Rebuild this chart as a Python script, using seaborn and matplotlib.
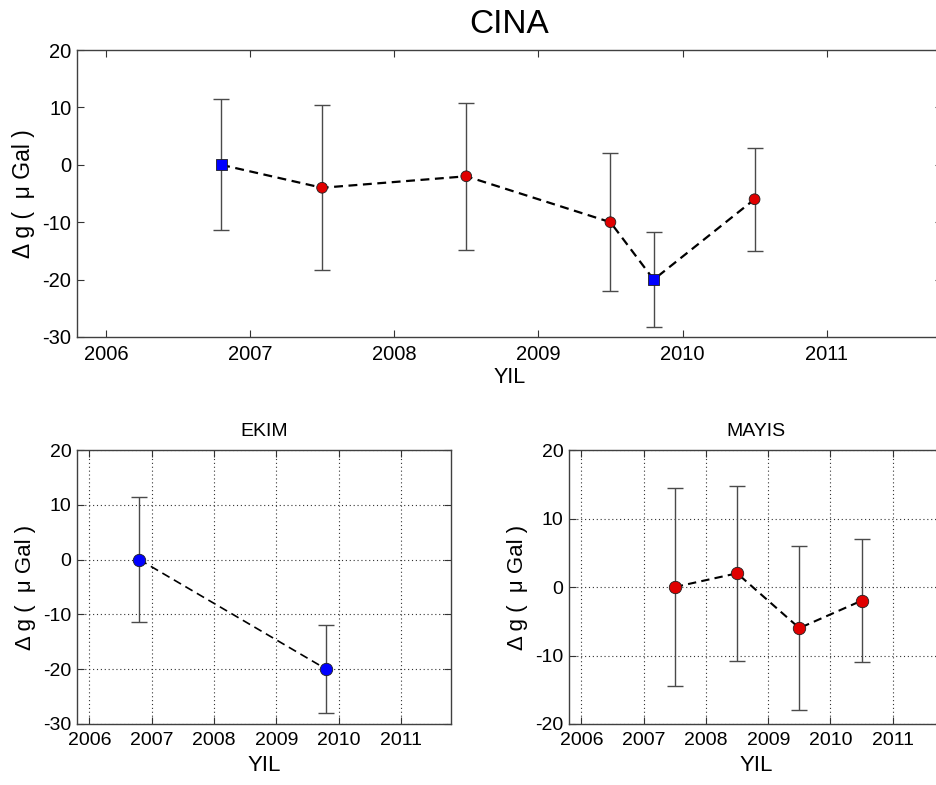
import matplotlib
matplotlib.use("Agg")
import matplotlib.pyplot as plt
import seaborn as sns
import pandas as pd

# Gravity change observations at station CINA
ekim_years = [2006.8, 2009.8]
ekim_dg = [0, -20]
ekim_err = [11.4, 8.0]

mayis_years = [2007.5, 2008.5, 2009.5, 2010.5]
mayis_dg = [0, 2, -6, -2]
mayis_err = [14.5, 12.8, 12.0, 9.0]

# Combined series (May campaigns referenced to the October datum)
all_years = [2006.8, 2007.5, 2008.5, 2009.5, 2009.8, 2010.5]
all_dg = [0, -4, -2, -10, -20, -6]
all_err = [11.4, 14.4, 12.8, 12.0, 8.3, 9.0]
all_campaign = ["EKIM", "MAYIS", "MAYIS", "MAYIS", "EKIM", "MAYIS"]

year_ticks = [2006, 2007, 2008, 2009, 2010, 2011]
ylabel = "\u0394 g (  \u03bc Gal )"

sns.set_theme(style="white")
plt.rcParams["font.family"] = ["Liberation Sans", "DejaVu Sans"]
plt.rcParams["axes.unicode_minus"] = False
plt.rcParams["text.color"] = "black"
plt.rcParams["axes.labelcolor"] = "black"

W, H = 937, 785
fig = plt.figure(figsize=(W / 100, H / 100), dpi=100)


def frame(ax, yticks, tick_size, grid):
    ax.set_xlim(2005.8, 2011.8)
    ax.set_xticks(year_ticks)
    ax.set_yticks(yticks)
    ax.set_ylim(yticks[0], yticks[-1])
    ax.tick_params(direction="in", length=5, width=0.8, colors="#333333",
                   labelcolor="black", labelsize=tick_size,
                   top=True, right=True, bottom=True, left=True, pad=4)
    ax.tick_params(axis="x", pad=6)
    for s in ax.spines.values():
        s.set_visible(True)
        s.set_color("#404040")
        s.set_linewidth(1.0)
    if grid:
        ax.grid(True, linestyle=(0, (1, 2.5)), color="#333333", linewidth=0.8)
    else:
        ax.grid(False)
    ax.set_facecolor("white")


# --- top panel: combined series ---
ax0 = fig.add_axes([77 / W, 1 - 337 / H, (942 - 77) / W, (337 - 50) / H])
df_all = pd.DataFrame({"YIL": all_years, "dg": all_dg, "err": all_err,
                       "kampanya": all_campaign})
ax0.errorbar(df_all["YIL"], df_all["dg"], yerr=df_all["err"], fmt="none",
             ecolor="#4a4a4a", elinewidth=1.0, capsize=6, capthick=1.0, zorder=2)
sns.lineplot(data=df_all, x="YIL", y="dg", ax=ax0, color="black",
             linestyle="--", linewidth=1.6, sort=True, zorder=3)
ax0.lines[-1].set_dashes((4, 2.5))
sns.scatterplot(data=df_all, x="YIL", y="dg", hue="kampanya", style="kampanya",
                palette={"EKIM": "#0000ff", "MAYIS": "#e00000"},
                markers={"EKIM": "s", "MAYIS": "o"},
                s=60, edgecolor="#202020", linewidth=0.6, legend=False,
                ax=ax0, zorder=4)
frame(ax0, [-30, -20, -10, 0, 10, 20], 14.5, grid=False)
ax0.set_title("CINA", fontsize=24, pad=12)
ax0.set_xlabel("YIL", fontsize=15.5, labelpad=2)
ax0.set_ylabel(ylabel, fontsize=16.5, labelpad=5)

# --- bottom left: October campaigns ---
ax1 = fig.add_axes([77 / W, 1 - 724 / H, (451 - 77) / W, (724 - 450) / H])
df_e = pd.DataFrame({"YIL": ekim_years, "dg": ekim_dg, "err": ekim_err})
ax1.errorbar(df_e["YIL"], df_e["dg"], yerr=df_e["err"], fmt="none",
             ecolor="#4a4a4a", elinewidth=1.0, capsize=6, capthick=1.0, zorder=2)
sns.lineplot(data=df_e, x="YIL", y="dg", ax=ax1, color="black",
             linestyle="--", linewidth=1.2, zorder=3)
ax1.lines[-1].set_dashes((5, 3))
sns.scatterplot(data=df_e, x="YIL", y="dg", color="#0000ff", marker="o",
                s=80, edgecolor="#202020", linewidth=0.6, ax=ax1, zorder=4)
frame(ax1, [-30, -20, -10, 0, 10, 20], 14, grid=True)
ax1.set_title("EKIM", fontsize=14, pad=10)
ax1.set_xlabel("YIL", fontsize=16, labelpad=4)
ax1.set_ylabel(ylabel, fontsize=16, labelpad=5)

# --- bottom right: May campaigns ---
ax2 = fig.add_axes([569 / W, 1 - 724 / H, (942.5 - 569) / W, (724 - 450) / H])
df_m = pd.DataFrame({"YIL": mayis_years, "dg": mayis_dg, "err": mayis_err})
ax2.errorbar(df_m["YIL"], df_m["dg"], yerr=df_m["err"], fmt="none",
             ecolor="#4a4a4a", elinewidth=1.0, capsize=6, capthick=1.0, zorder=2)
sns.lineplot(data=df_m, x="YIL", y="dg", ax=ax2, color="black",
             linestyle="--", linewidth=1.5, zorder=3)
ax2.lines[-1].set_dashes((4, 2.5))
sns.scatterplot(data=df_m, x="YIL", y="dg", color="#e00000", marker="o",
                s=80, edgecolor="#202020", linewidth=0.6, ax=ax2, zorder=4)
frame(ax2, [-20, -10, 0, 10, 20], 14, grid=True)
ax2.set_title("MAYIS", fontsize=14, pad=10)
ax2.set_xlabel("YIL", fontsize=16, labelpad=4)
ax2.set_ylabel(ylabel, fontsize=16, labelpad=5)

fig.savefig("out.png", dpi=100, facecolor="white")
